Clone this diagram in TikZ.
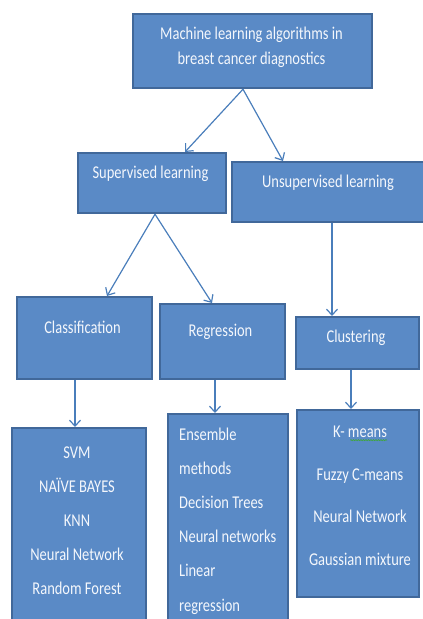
\documentclass[tikz,border=0pt]{standalone}
\usepackage{fontspec}
\setmainfont[FakeStretch=0.805]{Carlito}
\usetikzlibrary{arrows.meta,calc,decorations.pathmorphing}
\definecolor{boxfill}{HTML}{5A8AC6}
\definecolor{boxline}{HTML}{41689A}
\definecolor{arrowc}{HTML}{4A7EBB}
\definecolor{txt}{HTML}{F4F7FC}
\definecolor{spell}{HTML}{3FA63F}
\begin{document}
\begin{tikzpicture}[x=1pt,y=-1pt,
  box/.style={rectangle, draw=boxline, fill=boxfill, line width=2.2pt, inner sep=0pt, anchor=north west},
  lbl/.style={text=txt, font=\fontsize{18}{22}\selectfont, inner sep=0pt, anchor=base},
  lbll/.style={lbl, anchor=base west},
  arr/.style={draw=arrowc, line width=1.2pt, -{Straight Barb[length=6pt,width=11pt,line width=1.2pt]}}]
\useasboundingbox (0,0) rectangle (423,619);
\clip (0,0) rectangle (423,619);
% boxes
\node[box, minimum width=239pt, minimum height=74pt] (top) at (132,13) {};
\node[box, minimum width=148pt, minimum height=60pt] (sup) at (77,152) {};
\node[box, minimum width=194pt, minimum height=60pt] (uns) at (231,161) {};
\node[box, minimum width=135pt, minimum height=82pt] (cla) at (16,296) {};
\node[box, minimum width=125pt, minimum height=75pt] (reg) at (159,303) {};
\node[box, minimum width=123pt, minimum height=52pt] (clu) at (295,316) {};
\node[box, minimum width=134pt, minimum height=215pt] (clal) at (11,427) {};
\node[box, minimum width=120pt, minimum height=225pt] (regl) at (167,413) {};
\node[box, minimum width=122pt, minimum height=187pt] (clul) at (296,409) {};
% labels
\node[lbl] (t1) at (251.5,39) {Machine learning algorithms in};
\node[lbl] (t2) at (251.5,64) {breast cancer diagnostics};
\node[lbl] (tsup) at (150.5,178) {Supervised learning};
\node[lbl] (tuns) at (328,187) {Unsupervised learning};
\node[lbl] (tcla) at (82.5,333) {Classification};
\node[lbl] (treg) at (220.5,336) {Regression};
\node[lbl] (tclu) at (356,342) {Clustering};
\foreach \t [count=\i] in {SVM, NAÏVE BAYES, KNN, Neural Network, Random Forest}
  \node[lbl] (ca\i) at (77,{458+34.2*(\i-1)}) {\t};
\foreach \t [count=\i] in {Ensemble, methods, Decision Trees, Neural networks, Linear, regression}
  \node[lbll] (re\i) at (179,{440+34.2*(\i-1)}) {\t};
\foreach \t [count=\i] in {K- means, Fuzzy C-means, Neural Network, Gaussian mixture}
  \node[lbl] (cl\i) at (360,{437.7+42.5*(\i-1)}) {\t};
\draw[spell, line width=0.6pt, decorate, decoration={snake, amplitude=0.6pt, segment length=2.5pt}]
  ([shift={(-37pt,-2.5pt)}]cl1.base east) -- ([shift={(0pt,-2.5pt)}]cl1.base east);
% connectors
\draw[arr] ($(top.south west)+(111,0)$) -- ($(sup.north west)+(108,0)$);
\draw[arr] ($(top.south west)+(111,0)$) -- ($(uns.north west)+(52,0)$);
\draw[arr] ($(sup.south west)+(78,0)$) -- ($(cla.north west)+(91,0)$);
\draw[arr] ($(sup.south west)+(78,0)$) -- ($(reg.north west)+(53,0)$);
\draw[arr] ($(uns.south west)+(101,0)$) -- ($(clu.north west)+(37,0)$);
\draw[arr] ($(cla.south west)+(59,0)$) -- ($(clal.north west)+(64,0)$);
\draw[arr] ($(reg.south west)+(56,0)$) -- ($(regl.north west)+(48,0)$);
\draw[arr] ($(clu.south west)+(56,0)$) -- ($(clul.north west)+(55,0)$);
\end{tikzpicture}
\end{document}
